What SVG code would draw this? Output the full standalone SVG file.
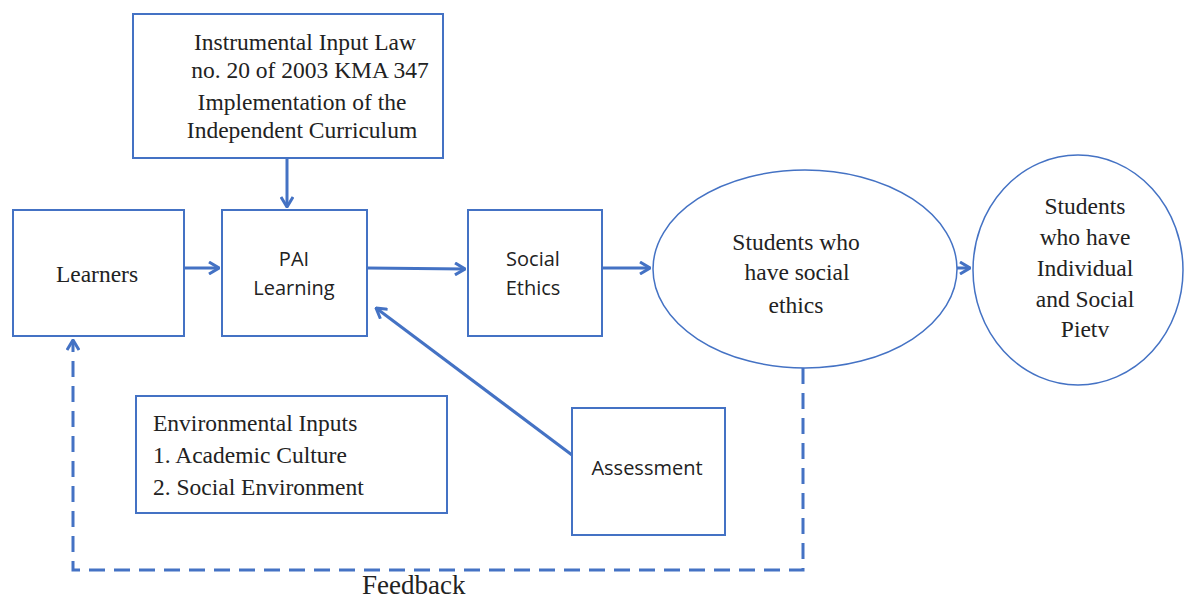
<svg xmlns="http://www.w3.org/2000/svg" width="1184" height="598" viewBox="0 0 1184 598">
<style>
.box{fill:#fff;stroke:#4472C4;stroke-width:2}
.ell{fill:#fff;stroke:#4472C4;stroke-width:1.5}
.serif{font-family:"Liberation Serif","Times New Roman",serif;font-size:23.5px;fill:#222}
.sans{font-family:"Open Sans","Liberation Sans",sans-serif;font-size:20px;fill:#222}
.c{text-anchor:middle}
.ln{stroke:#4472C4;stroke-width:3;fill:none}
.dash{stroke:#4472C4;stroke-width:3;fill:none;stroke-dasharray:16 9}
</style>
<defs>
<marker id="ah" viewBox="0 0 12 14" refX="11" refY="7" markerWidth="12" markerHeight="14" markerUnits="userSpaceOnUse" orient="auto">
<path d="M1,1 L11,7 L1,13" fill="none" stroke="#4472C4" stroke-width="3"/>
</marker>
</defs>
<rect width="1184" height="598" fill="#fff"/>
<g id="connectors">
<line class="ln" x1="287" y1="158" x2="287" y2="207" marker-end="url(#ah)"/>
<line class="ln" x1="184" y1="268" x2="219" y2="268" marker-end="url(#ah)"/>
<line class="ln" x1="367" y1="268" x2="465" y2="269" marker-end="url(#ah)"/>
<line class="ln" x1="602" y1="268" x2="650" y2="268" marker-end="url(#ah)"/>
<line class="ln" x1="957" y1="268" x2="970" y2="268" marker-end="url(#ah)"/>
<line class="ln" x1="572" y1="455" x2="376" y2="308" marker-end="url(#ah)"/>
<path class="dash" d="M803,368 L803,570 L73,570 L73,340" marker-end="url(#ah)"/>
</g>
<g id="instrumental">
<rect class="box" x="133" y="14" width="310" height="144"/>
<text class="serif c" x="305" y="50">Instrumental Input Law</text>
<text class="serif c" x="310" y="78">no. 20 of 2003 KMA 347</text>
<text class="serif c" x="302" y="110">Implementation of the</text>
<text class="serif c" x="302" y="138">Independent Curriculum</text>
</g>
<g id="learners">
<rect class="box" x="13" y="210" width="171" height="126"/>
<text class="serif c" x="97" y="282">Learners</text>
</g>
<g id="pai">
<rect class="box" x="222" y="210" width="145" height="126"/>
<text class="sans c" x="294" y="266">PAI</text>
<text class="sans c" x="294" y="295">Learning</text>
</g>
<g id="social-ethics">
<rect class="box" x="468" y="210" width="134" height="126"/>
<text class="sans c" x="533" y="266">Social</text>
<text class="sans c" x="533" y="295">Ethics</text>
</g>
<g id="students-social">
<ellipse class="ell" cx="805" cy="269" rx="152" ry="99"/>
<text class="serif c" x="796" y="250">Students who</text>
<text class="serif c" x="797" y="280">have social</text>
<text class="serif c" x="796" y="313">ethics</text>
</g>
<g id="students-piety">
<ellipse class="ell" cx="1078" cy="270" rx="105" ry="115"/>
<text class="serif c" x="1085" y="214">Students</text>
<text class="serif c" x="1085" y="245">who have</text>
<text class="serif c" x="1085" y="276">Individual</text>
<text class="serif c" x="1085" y="307">and Social</text>
<text class="serif c" x="1085" y="337">Pietv</text>
</g>
<g id="environmental">
<rect class="box" x="136" y="396" width="311" height="117"/>
<text class="serif" x="153" y="431">Environmental Inputs</text>
<text class="serif" x="153" y="463">1. Academic Culture</text>
<text class="serif" x="153" y="495">2. Social Environment</text>
</g>
<g id="assessment">
<rect class="box" x="572" y="408" width="153" height="127"/>
<text class="sans c" x="647" y="475">Assessment</text>
</g>
<g id="feedback-label">
<text class="serif" x="362" y="594" style="font-size:27px">Feedback</text>
</g>
</svg>
